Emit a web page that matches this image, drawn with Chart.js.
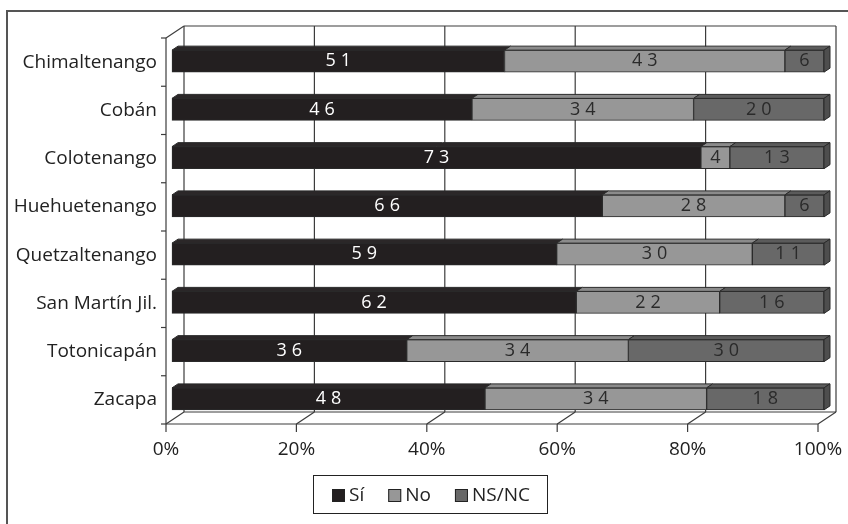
<!DOCTYPE html>
<html>
<head>
<meta charset="utf-8">
<script src="https://cdn.jsdelivr.net/npm/chart.js@4.4.0/dist/chart.umd.min.js"></script>
<style>
html, body { margin: 0; padding: 0; background: #fff; }
</style>
</head>
<body>
<canvas id="chart" width="848" height="524"></canvas>
<script>
const places = ["Chimaltenango", "Cobán", "Colotenango", "Huehuetenango", "Quetzaltenango", "San Martín Jil.", "Totonicapán", "Zacapa"]
const si = [51, 46, 73, 66, 59, 62, 36, 48]
const no = [43, 34, 4, 28, 30, 22, 34, 34]
const nsnc = [6, 20, 13, 6, 11, 16, 30, 18]
const seriesNames = ["Sí", "No", "NS/NC"]
const xTicks = [0, 20, 40, 60, 80, 100]

const fronts = ["#231f20", "#979797", "#686868"]
const tops = ["#2b2728", "#8b8b8b", "#5b5b5b"]
const sides = ["#1c1819", "#7c7c7c", "#4e4e4e"]
const textColors = ["#ffffff", "#2a2a2a", "#2a2a2a"]
const FONT = "'Open Sans', sans-serif"

// depth of the 3d box and of the bars
const DX = 18, DY = 12
const BX = 6, BY = 4, SHIFT_Y = -1

const raw = [si, no, nsnc]
const totals = places.map((p, i) => si[i] + no[i] + nsnc[i])
function toPct(arr) {
    return arr.map((v, i) => v / totals[i] * 100)
}

function line(ctx, x1, y1, x2, y2) {
    ctx.beginPath()
    ctx.moveTo(x1, y1)
    ctx.lineTo(x2, y2)
    ctx.stroke()
}

const box3d = {
    id: "box3d",
    beforeDatasetsDraw(chart) {
        const ctx = chart.ctx
        const xs = chart.scales.x
        const { left, right, top, bottom } = chart.chartArea
        ctx.save()
        ctx.strokeStyle = "#3c3c3c"
        ctx.lineWidth = 1.2
        // back wall grid + floor lines
        xTicks.forEach(t => {
            const px = xs.getPixelForValue(t)
            line(ctx, px + DX, top - DY, px + DX, bottom - DY)
            line(ctx, px, bottom, px + DX, bottom - DY)
            line(ctx, px, bottom, px, bottom + 8)
        })
        line(ctx, left + DX, top - DY, right + DX, top - DY)
        line(ctx, left, top, left + DX, top - DY)
        line(ctx, left + DX, bottom - DY, right + DX, bottom - DY)
        // front axes
        line(ctx, left, top, left, bottom)
        line(ctx, left, bottom, right, bottom)
        for (let i = 0; i <= places.length; i++) {
            const y = top + i * (bottom - top) / places.length
            line(ctx, left - 5, y, left, y)
        }
        ctx.restore()
        // bars are drawn a bit inside the box
        ctx.save()
        ctx.translate(BX, SHIFT_Y)
    },
    afterDatasetsDraw(chart) {
        const ctx = chart.ctx
        const last = chart.data.datasets.length - 1
        ctx.strokeStyle = "#2a2a2a"
        ctx.lineWidth = 1
        chart.data.datasets.forEach((ds, di) => {
            const meta = chart.getDatasetMeta(di)
            meta.data.forEach(bar => {
                const p = bar.getProps(["x", "y", "base", "height"], true)
                const t = p.y - p.height / 2
                ctx.fillStyle = tops[di]
                ctx.beginPath()
                ctx.moveTo(p.base, t)
                ctx.lineTo(p.x, t)
                ctx.lineTo(p.x + BX, t - BY)
                ctx.lineTo(p.base + BX, t - BY)
                ctx.closePath()
                ctx.fill()
                ctx.stroke()
                if (di === last) {
                    ctx.fillStyle = sides[di]
                    ctx.beginPath()
                    ctx.moveTo(p.x, t)
                    ctx.lineTo(p.x + BX, t - BY)
                    ctx.lineTo(p.x + BX, t + p.height - BY)
                    ctx.lineTo(p.x, t + p.height)
                    ctx.closePath()
                    ctx.fill()
                    ctx.stroke()
                }
            })
        })
        // value labels
        ctx.font = "18px " + FONT
        ctx.letterSpacing = "5px"
        ctx.textAlign = "center"
        ctx.textBaseline = "middle"
        chart.data.datasets.forEach((ds, di) => {
            const meta = chart.getDatasetMeta(di)
            meta.data.forEach((bar, i) => {
                const p = bar.getProps(["x", "y", "base"], true)
                ctx.fillStyle = textColors[di]
                ctx.fillText(String(raw[di][i]), (p.base + p.x) / 2 + 2.5, p.y)
            })
        })
        ctx.letterSpacing = "0px"
        ctx.restore()
    },
    afterDraw(chart) {
        const ctx = chart.ctx
        ctx.save()
        // outer frame
        ctx.strokeStyle = "#555"
        ctx.lineWidth = 2
        line(ctx, 7, 11, 848, 11)
        line(ctx, 7, 10, 7, 524)
        // legend
        ctx.strokeStyle = "#222"
        ctx.lineWidth = 1
        ctx.strokeRect(313.5, 475.5, 234, 38)
        ctx.font = "19px " + FONT
        ctx.textBaseline = "middle"
        ctx.textAlign = "left"
        let x = 332
        seriesNames.forEach((name, i) => {
            ctx.fillStyle = fronts[i]
            ctx.fillRect(x, 489, 13, 13)
            ctx.strokeStyle = "#222"
            ctx.strokeRect(x + 0.5, 489.5, 12, 12)
            ctx.fillStyle = "#222"
            ctx.fillText(name, x + 17, 496)
            x += 17 + ctx.measureText(name).width + 24
        })
        ctx.restore()
    }
}

const ctx = document.getElementById("chart").getContext("2d")
const datasets = seriesNames.map((name, i) => ({
    label: name,
    data: toPct(raw[i]),
    backgroundColor: fronts[i],
    borderColor: "#2a2a2a",
    borderWidth: 1,
    borderSkipped: false,
    barThickness: 22,
    clip: false
}))

const myChart = new Chart(ctx, {
    type: "bar",
    data: { labels: places, datasets: datasets },
    options: {
        indexAxis: "y",
        responsive: false,
        animation: false,
        devicePixelRatio: 1,
        layout: { padding: { left: 0, right: 30, top: 38, bottom: 0 } },
        plugins: {
            legend: { display: false },
            tooltip: { enabled: false }
        },
        scales: {
            x: {
                stacked: true,
                min: 0,
                max: 100,
                grid: { display: false, drawTicks: false },
                border: { display: false },
                ticks: {
                    stepSize: 20,
                    padding: 14,
                    color: "#222",
                    font: { family: FONT, size: 19 },
                    callback: v => v + "%"
                },
                afterFit: s => {
                    s.height = 100
                    s.paddingLeft = 0
                    s.paddingRight = 0
                }
            },
            y: {
                stacked: true,
                grid: { display: false, drawTicks: false },
                border: { display: false },
                ticks: {
                    padding: 9,
                    color: "#222",
                    font: { family: FONT, size: 19 }
                },
                afterFit: s => {
                    s.width = 166
                    s.paddingTop = 0
                    s.paddingBottom = 0
                }
            }
        }
    },
    plugins: [box3d]
})
</script>
</body>
</html>
